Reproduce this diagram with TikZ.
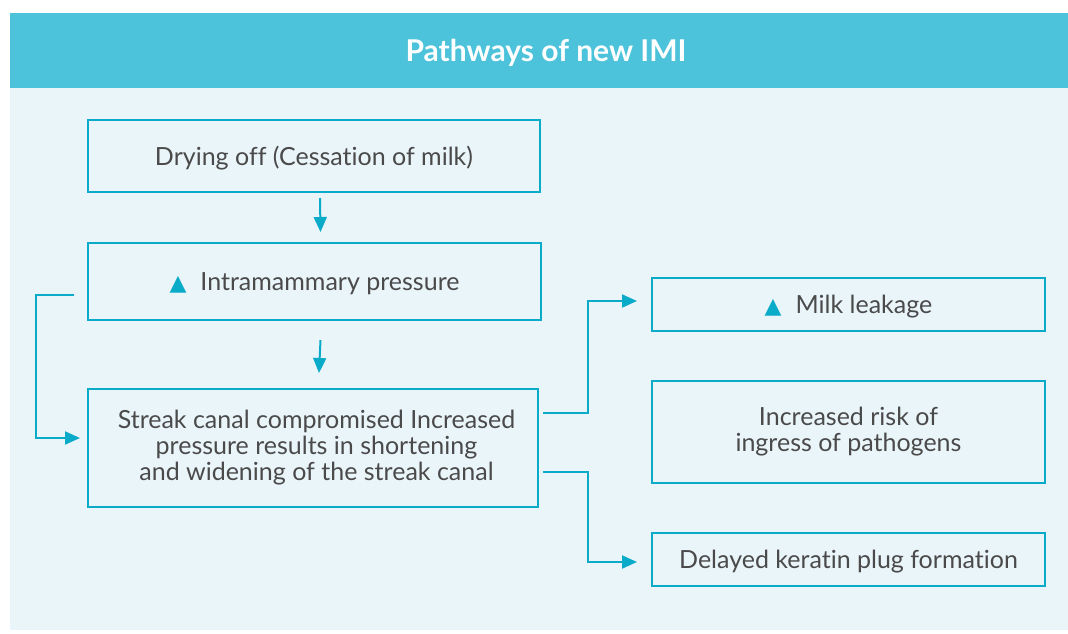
\documentclass[tikz,border=0pt]{standalone}
\usepackage{fontspec}
\setmainfont{Lato}[Ligatures=NoCommon]
\newfontfamily\symfont{DejaVu Sans}
\usetikzlibrary{arrows.meta}
\usetikzlibrary{calc}
\definecolor{headblue}{HTML}{4CC3DA}
\definecolor{panelblue}{HTML}{EAF5FA}
\definecolor{linecyan}{HTML}{0AABC8}
\definecolor{textgray}{HTML}{4A4A4A}
\tikzset{
  stagebox/.style={draw=linecyan, line width=2pt, fill=panelblue, text=textgray,
    font=\fontsize{25}{26}\selectfont, align=center, inner sep=0pt},
  flowarrow/.style={draw=linecyan, line width=2pt,
    -{Triangle[length=15pt,width=13pt]}},
}
\newcommand{\uptri}{{\fontsize{22}{22}\symfont\color{linecyan}\char"25B2}}

\begin{document}
\begin{tikzpicture}[x=1pt,y=-1pt]
			\useasboundingbox (0,0) rectangle (1068,633);
			\fill[white] (0,0) rectangle (1068,633);
			\fill[panelblue] (10,13) rectangle (1068,630);
			\fill[headblue] (10,13) rectangle (1068,88);
			\node[text=white, font=\fontsize{30}{30}\selectfont\bfseries] (title) at (546,53){Pathways of new IMI};
			% left column
			\node[stagebox, minimum width=452pt, minimum height=72pt] (dry) at (314,156){\raisebox{-2pt}[\height][\depth]{Drying off (Cessation of milk)}};
			\node[stagebox, minimum width=453pt, minimum height=77pt] (pres) at (314.5,281.5){\raisebox{-2pt}[\height][\depth]{\uptri\hspace{14pt}Intramammary pressure}};
			\node[stagebox, minimum width=450pt, minimum height=118pt] (streak) at (313,448){\hspace*{7pt}Streak canal compromised Increased\\\hspace*{7pt}pressure results in shortening\\\hspace*{7pt}and widening of the streak canal};
			% right column
			\node[stagebox, minimum width=393pt, minimum height=53pt] (leak) at (848.5,304.5){\raisebox{-2pt}[\height][\depth]{\uptri\hspace{14pt}Milk leakage}};
			\node[stagebox, minimum width=393pt, minimum height=102pt] (risk) at (848.5,432){Increased risk of\\ingress of pathogens};
			\node[stagebox, minimum width=393pt, minimum height=53pt] (plug) at (848.5,559.5){\raisebox{-2pt}[\height][\depth]{Delayed keratin plug formation}};
			% connectors
			\draw[flowarrow] ($(dry.south)+(6,5)$) -- ($(pres.north)+(6,-10)$);
			\draw[flowarrow] ($(pres.south)+(6,19)$) -- ($(streak.north)+(6,-15)$);
			\draw[flowarrow] ($(pres.west)+(-13,13.5)$) -- ++(-38,0) |- ($(streak.west)+(-7,-10)$);
			\draw[flowarrow] ($(streak.east)+(4,-35)$) -- ++(45,0) |- ($(leak.west)+(-14,-3.5)$);
			\draw[flowarrow] ($(streak.east)+(4,24)$) -- ++(45,0) |- ($(plug.west)+(-14,2.5)$);
		\end{tikzpicture}
\end{document}
